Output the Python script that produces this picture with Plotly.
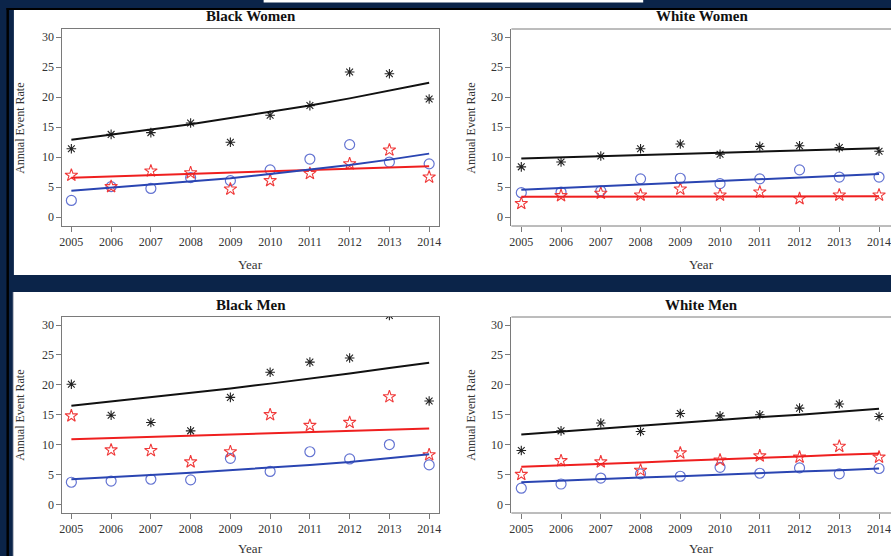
import plotly.graph_objects as go

YEARS = [2005, 2006, 2007, 2008, 2009, 2010, 2011, 2012, 2013, 2014]
PANEL_TITLES = ["Black Women", "White Women", "Black Men", "White Men"]
Y_TICKS = [0, 5, 10, 15, 20, 25, 30]

# Black Women
bw_black_pts = [11.4, 13.8, 14.1, 15.7, 12.5, 17.0, 18.6, 24.2, 23.9, 19.7]
bw_black_fit = [12.9, 13.7, 14.6, 15.5, 16.5, 17.5, 18.6, 19.8, 21.1, 22.4]
bw_blue_pts = [2.8, 5.1, 4.8, 6.6, 6.1, 7.9, 9.7, 12.1, 9.2, 8.9]
bw_blue_fit = [4.4, 4.9, 5.4, 5.9, 6.5, 7.2, 7.9, 8.7, 9.6, 10.6]
bw_red_pts = [7.0, 5.1, 7.7, 7.4, 4.7, 6.1, 7.3, 8.9, 11.2, 6.7]
bw_red_fit = [6.6, 6.8, 7.0, 7.2, 7.4, 7.6, 7.8, 8.0, 8.3, 8.5]

# White Women
ww_black_pts = [8.4, 9.2, 10.2, 11.4, 12.2, 10.5, 11.8, 11.9, 11.6, 11.0]
ww_black_fit = [9.8, 10.0, 10.2, 10.4, 10.5, 10.7, 10.9, 11.1, 11.3, 11.5]
ww_blue_pts = [4.1, 4.2, 4.4, 6.4, 6.5, 5.6, 6.4, 7.9, 6.7, 6.7]
ww_blue_fit = [4.6, 4.9, 5.1, 5.4, 5.7, 6.0, 6.3, 6.6, 6.9, 7.2]
ww_red_pts = [2.3, 3.6, 4.0, 3.7, 4.7, 3.7, 4.2, 3.1, 3.7, 3.7]
ww_red_fit = [3.4, 3.4, 3.4, 3.4, 3.4, 3.5, 3.5, 3.5, 3.5, 3.5]

# Black Men
bm_black_pts = [20.1, 14.9, 13.7, 12.3, 17.9, 22.1, 23.8, 24.5, 31.6, 17.3]
bm_black_fit = [16.5, 17.2, 17.9, 18.6, 19.4, 20.2, 21.0, 21.9, 22.8, 23.7]
bm_blue_pts = [3.7, 3.9, 4.2, 4.1, 7.7, 5.5, 8.8, 7.6, 10.0, 6.6]
bm_blue_fit = [4.2, 4.5, 4.9, 5.3, 5.7, 6.1, 6.6, 7.1, 7.7, 8.4]
bm_red_pts = [14.8, 9.1, 9.0, 7.1, 8.8, 15.0, 13.2, 13.7, 18.0, 8.3]
bm_red_fit = [10.9, 11.1, 11.3, 11.5, 11.7, 11.9, 12.1, 12.3, 12.5, 12.7]

# White Men
wm_black_pts = [9.0, 12.3, 13.6, 12.2, 15.2, 14.8, 15.0, 16.1, 16.8, 14.7]
wm_black_fit = [11.7, 12.2, 12.6, 13.1, 13.6, 14.1, 14.6, 15.0, 15.5, 16.0]
wm_blue_pts = [2.7, 3.4, 4.4, 5.1, 4.7, 6.2, 5.2, 6.1, 5.1, 6.0]
wm_blue_fit = [3.7, 4.0, 4.2, 4.5, 4.7, 5.0, 5.2, 5.5, 5.7, 6.0]
wm_red_pts = [5.0, 7.3, 7.1, 5.7, 8.6, 7.4, 8.1, 7.9, 9.7, 7.9]
wm_red_fit = [6.3, 6.5, 6.8, 7.0, 7.3, 7.5, 7.8, 8.0, 8.3, 8.5]

PANELS = [
    (bw_black_pts, bw_black_fit, bw_blue_pts, bw_blue_fit, bw_red_pts, bw_red_fit),
    (ww_black_pts, ww_black_fit, ww_blue_pts, ww_blue_fit, ww_red_pts, ww_red_fit),
    (bm_black_pts, bm_black_fit, bm_blue_pts, bm_blue_fit, bm_red_pts, bm_red_fit),
    (wm_black_pts, wm_black_fit, wm_blue_pts, wm_blue_fit, wm_red_pts, wm_red_fit),
]

W, H = 891, 556
NAVY = "#0b2449"
SERIF = "Liberation Serif"
TXT = "#333333"
AXC = "#7a7a7a"


def px(x):
    return x / W


def py(y):
    return 1 - y / H


# plot boxes in pixels: (left, right, top, bottom)
BOXES = [(60, 440, 29, 226), (513, 891, 29, 226), (60, 440, 317, 513), (513, 891, 317, 513)]
XRANGES = [[2004.776, 2014.249], [2004.751, 2014.175], [2004.776, 2014.249], [2004.751, 2014.175]]
YRANGE = [-1.45, 31.35]

fig = go.Figure()

for i, data in enumerate(PANELS):
    black_pts, black_fit, blue_pts, blue_fit, red_pts, red_fit = data
    xa = "x" if i == 0 else f"x{i+1}"
    ya = "y" if i == 0 else f"y{i+1}"
    common = dict(xaxis=xa, yaxis=ya, showlegend=False, hoverinfo="skip")
    fig.add_trace(go.Scatter(x=YEARS, y=blue_pts, mode="markers",
                             marker=dict(symbol="circle-open", size=10, color="#6474d2",
                                         line=dict(width=1.2, color="#6474d2")), **common))
    fig.add_trace(go.Scatter(x=YEARS, y=red_pts, mode="markers",
                             marker=dict(symbol="star-open", size=9.5, color="#f03a3a",
                                         line=dict(width=1.1, color="#f03a3a")), **common))
    fig.add_trace(go.Scatter(x=YEARS, y=black_pts, mode="markers",
                             marker=dict(symbol="asterisk-open", size=8, color="#222222",
                                         line=dict(width=1.1, color="#222222")), **common))
    fig.add_trace(go.Scatter(x=YEARS, y=black_fit, mode="lines",
                             line=dict(color="#111111", width=2), **common))
    fig.add_trace(go.Scatter(x=YEARS, y=red_fit, mode="lines",
                             line=dict(color="#ef1f1f", width=2), **common))
    fig.add_trace(go.Scatter(x=YEARS, y=blue_fit, mode="lines",
                             line=dict(color="#2a45b2", width=2), **common))

layout = dict(
    width=W, height=H, autosize=False,
    margin=dict(l=0, r=0, t=0, b=0, pad=0),
    paper_bgcolor=NAVY,
    plot_bgcolor="rgba(0,0,0,0)",
    font=dict(family=SERIF, size=12, color=TXT),
)

for i, (l, r, t, b) in enumerate(BOXES):
    xk = "xaxis" if i == 0 else f"xaxis{i+1}"
    yk = "yaxis" if i == 0 else f"yaxis{i+1}"
    ya = "y" if i == 0 else f"y{i+1}"
    xa = "x" if i == 0 else f"x{i+1}"
    right_clipped = r >= W
    layout[xk] = dict(domain=[px(l), px(r)], anchor=ya, range=XRANGES[i],
                      tickmode="array", tickvals=YEARS, ticktext=[str(v) for v in YEARS],
                      ticks="outside", ticklen=5, tickcolor=AXC, tickwidth=1,
                      showline=not right_clipped, linecolor=AXC, linewidth=1, mirror=True,
                      showgrid=False, zeroline=False, ticklabeloverflow="allow",
                      tickfont=dict(family=SERIF, size=12, color=TXT))
    layout[yk] = dict(domain=[py(b), py(t)], anchor=xa, range=YRANGE,
                      tickmode="array", tickvals=Y_TICKS,
                      ticks="outside", ticklen=5, tickcolor=AXC, tickwidth=1,
                      showline=True, linecolor=AXC, linewidth=1,
                      mirror=False if right_clipped else True,
                      showgrid=False, zeroline=False,
                      tickfont=dict(family=SERIF, size=12, color=TXT))

X_OVER = 1.03
shapes = [
    # white strip at the very top
    dict(type="rect", xref="paper", yref="paper", x0=px(263), x1=px(646), y0=py(2.5), y1=py(0),
         fillcolor="white", line=dict(width=0), layer="below"),
    # black frame lines
    dict(type="rect", xref="paper", yref="paper", x0=px(3.5), x1=X_OVER, y0=py(10), y1=py(8),
         fillcolor="black", line=dict(width=0), layer="below"),
    dict(type="rect", xref="paper", yref="paper", x0=px(3.5), x1=px(6), y0=py(556), y1=py(8),
         fillcolor="black", line=dict(width=0), layer="below"),
    # white panels
    dict(type="rect", xref="paper", yref="paper", x0=px(11), x1=X_OVER, y0=py(275), y1=py(10),
         fillcolor="white", line=dict(width=0), layer="below"),
    dict(type="rect", xref="paper", yref="paper", x0=px(10), x1=X_OVER, y0=py(556), y1=py(292),
         fillcolor="white", line=dict(width=0), layer="below"),
    dict(type="rect", xref="paper", yref="paper", x0=px(10), x1=px(11), y0=py(556), y1=py(292),
         fillcolor="#b8bcc6", line=dict(width=0), layer="below"),
]
# top and bottom box edges of the right-hand panels, running off the right edge
for (l, r, t, b) in BOXES:
    if r >= W:
        for yy in (t, b):
            shapes.append(dict(type="line", xref="paper", yref="paper", x0=px(l), x1=X_OVER,
                               y0=py(yy), y1=py(yy), line=dict(color=AXC, width=1), layer="above"))
layout["shapes"] = shapes

annotations = []
title_pos = [(250, 16), (705, 16), (250, 305), (705, 305)]
for (cx, cy), title in zip(title_pos, PANEL_TITLES):
    annotations.append(dict(text="<b>" + title + "</b>", x=px(cx), y=py(cy), xref="paper", yref="paper",
                            showarrow=False, xanchor="center", yanchor="middle",
                            font=dict(family=SERIF, size=15, color="#111111")))
year_pos = [(250, 265), (705, 265), (250, 548), (705, 548)]
for cx, cy in year_pos:
    annotations.append(dict(text="Year", x=px(cx), y=py(cy), xref="paper", yref="paper",
                            showarrow=False, xanchor="center", yanchor="middle",
                            font=dict(family=SERIF, size=13, color=TXT)))
ytitle_pos = [(17, 128), (472, 128), (17, 415), (472, 415)]
for cx, cy in ytitle_pos:
    annotations.append(dict(text="Annual Event Rate", x=px(cx), y=py(cy), xref="paper", yref="paper",
                            showarrow=False, xanchor="center", yanchor="middle", textangle=-90,
                            font=dict(family=SERIF, size=12, color=TXT)))
layout["annotations"] = annotations

fig.update_layout(**layout)
fig.write_html(
    "out.html",
    config={"displayModeBar": False, "responsive": False},
    post_script=(
        "document.documentElement.style.margin='0';"
        "document.documentElement.style.overflow='hidden';"
        "document.body.style.margin='0';"
        "document.body.style.overflow='hidden';"
    ),
)
